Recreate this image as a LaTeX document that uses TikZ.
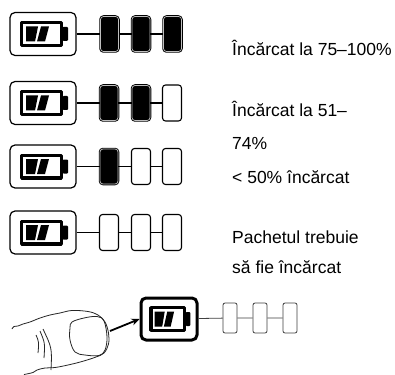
\documentclass[tikz,border=0pt]{standalone}
\usepackage{fontspec}
\setmainfont{Liberation Sans}
\usetikzlibrary{arrows.meta}

\tikzset{
  batt/.pic={
    \draw[line width=3.4pt] (-21.3,-11.3) rectangle (18.3,11.3);
    \fill[rounded corners=1pt] (19.5,-7) rectangle (25,7);
    \fill (-17,-7.5) -- (-5,-7.5) -- (-8,7.5) -- (-17,7.5) -- cycle;
    \fill (-2,-7.5) -- (6,-7.5) -- (2,7.5) -- (-6,7.5) -- cycle;
  }
}

\begin{document}
\begin{tikzpicture}[x=1pt,y=-1pt,line join=round,
    box/.style={draw,line width=1.2pt,rounded corners=5pt,minimum width=66pt,minimum height=43pt,inner sep=0pt},
    full/.style={draw,line width=0.9pt,double=black!25,double distance=0.7pt,fill=black,rounded corners=3pt,minimum width=18pt,minimum height=35pt,inner sep=0pt},
    empty/.style={draw,line width=1.1pt,fill=white,rounded corners=3pt,minimum width=19pt,minimum height=36pt,inner sep=0pt},
    small/.style={draw=black!75,line width=0.8pt,rounded corners=2pt,minimum width=14pt,minimum height=30pt,inner sep=0pt},
    wire/.style={line width=1.2pt},
    txt/.style={anchor=base west,inner sep=0pt,font=\fontsize{17.5}{21}\selectfont},
    finger/.style={line width=0.8pt,black!85}]
  \useasboundingbox[fill=white] (0,0) rectangle (395,374);

  \node[box] (b1) at (43,34) {};
  \node[full] (c11) at (109.5,34) {};
  \node[full] (c12) at (141,34) {};
  \node[full] (c13) at (172.5,34) {};
  \path (b1) pic {batt};
  \draw[wire] (b1) -- (c11) -- (c12) -- (c13);

  \node[box] (b2) at (43,103) {};
  \node[full] (c21) at (109,103) {};
  \node[full] (c22) at (141,103) {};
  \node[empty] (c23) at (172,103) {};
  \path (b2) pic {batt};
  \draw[wire] (b2) -- (c21) -- (c22) -- (c23);

  \node[box] (b3) at (43,166.5) {};
  \node[full] (c31) at (109,166.5) {};
  \node[empty] (c32) at (141,166.5) {};
  \node[empty] (c33) at (172,166.5) {};
  \path (b3) pic {batt};
  \draw[wire] (b3) -- (c31) -- (c32) -- (c33);

  \node[box] (b4) at (43,232.5) {};
  \node[empty] (c41) at (109,232.5) {};
  \node[empty] (c42) at (141,232.5) {};
  \node[empty] (c43) at (172,232.5) {};
  \path (b4) pic {batt};
  \draw[wire] (b4) -- (c41) -- (c42) -- (c43);

  \node[box,line width=3pt,minimum width=56pt,minimum height=42pt] (b5) at (169,319) {};
  \node[small] (c51) at (230,318) {};
  \node[small] (c52) at (260,318) {};
  \node[small] (c53) at (290,318) {};
  \path (b5) pic[xscale=0.85] {batt};
  \draw[black!75,line width=0.8pt] (b5) -- (c51) -- (c52) -- (c53);

  \node[txt] (t1) at (232,56) {Încărcat la 75–100\%};
  \node[txt] (t2) at (232,117) {Încărcat la 51–};
  \node[txt] (t3) at (232,149) {74\%};
  \node[txt] (t4) at (232,183) {< 50\% încărcat};
  \node[txt] (t5) at (232,243) {Pachetul trebuie};
  \node[txt] (t6) at (232,273) {să fie încărcat};

  \draw[finger] plot[smooth,tension=0.6] coordinates {(12,329) (14,326.5) (18,326) (23,324) (30,322) (40,318)
    (50,315) (60,313) (72,310.5) (88,311.5) (98,315) (105,322) (108.5,333) (108.5,344) (104,353) (96,357)
    (82,361.5) (68,365) (55,367.5) (45,368) (37,370) (33,372.5) (24,374.5)};
  \draw[finger] plot[smooth cycle,tension=0.6] coordinates {(72,322) (84,318) (97,316.5) (104,321) (107,337)
    (105,350) (99,355.5) (85,355) (75,352) (70,340) (70,328)};
  \draw[finger] (36,335) .. controls (39,342) .. (38,353);
  \draw[finger] (40,331) .. controls (45,343) .. (44,358);
  \draw[finger] (43,329) .. controls (52,348) .. (51,370);

  \coordinate (tip) at (110,331);
  \draw[-{Stealth[length=8pt,width=7pt]},line width=1.8pt] (tip) -- (b5.west);
\end{tikzpicture}
\end{document}
